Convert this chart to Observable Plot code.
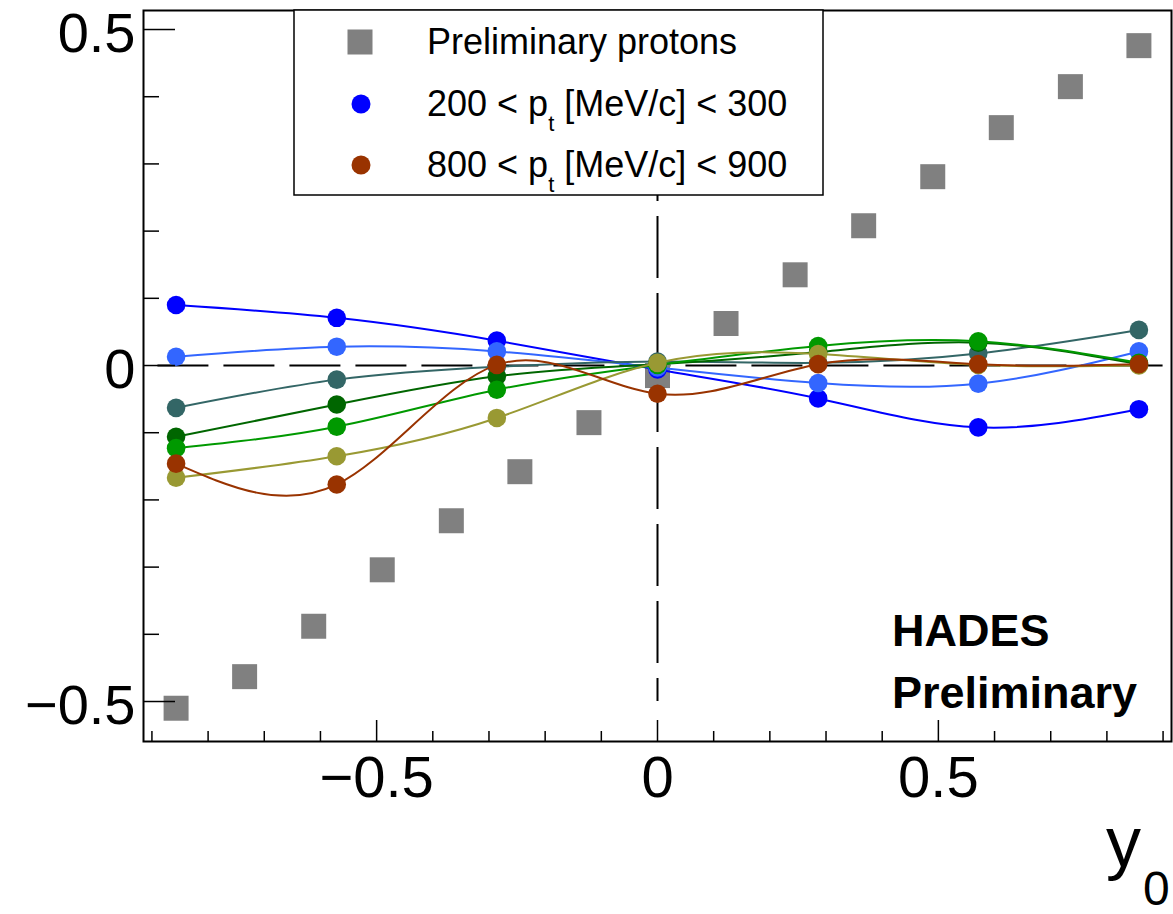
<!DOCTYPE html>
<html><head><meta charset="utf-8">
<script src="https://cdn.jsdelivr.net/npm/d3@7"></script>
<script src="https://cdn.jsdelivr.net/npm/@observablehq/plot@0.6"></script>
<style>
html,body{margin:0;padding:0;background:#fff;overflow:hidden}
#chart{position:relative;width:1173px;height:914px}
svg{display:block}
</style></head><body><div id="chart"></div>
<script>
// rapidity bins of the pt-differential series
const rapidity = [-0.857, -0.571, -0.286, 0, 0.286, 0.571, 0.857];
// proton reference points
const protonRapidity = [-0.857, -0.735, -0.612, -0.49, -0.367, -0.245, -0.122, 0, 0.122, 0.245, 0.367, 0.49, 0.612, 0.735, 0.857];
const protonV1 = [-0.510, -0.463, -0.388, -0.304, -0.231, -0.158, -0.085, -0.015, 0.0625, 0.135, 0.208, 0.281, 0.354, 0.415, 0.476];
// pt bins
const ptBins = ["200-300", "300-400", "400-500", "500-600", "600-700", "700-800", "800-900"];
const ptColors = ["#0000ff", "#3366ff", "#336666", "#006600", "#009900", "#999933", "#993300"];
const v1_200_300 = [0.090, 0.071, 0.037, -0.006, -0.049, -0.092, -0.065];
const v1_300_400 = [0.013, 0.028, 0.021, -0.003, -0.026, -0.027, 0.021];
const v1_400_500 = [-0.063, -0.021, -0.002, 0.006, 0.004, 0.018, 0.053];
const v1_500_600 = [-0.106, -0.058, -0.016, 0.002, 0.020, 0.034, 0.002];
const v1_600_700 = [-0.123, -0.091, -0.036, 0.001, 0.029, 0.036, 0.004];
const v1_700_800 = [-0.167, -0.135, -0.078, 0.004, 0.017, 0.001, 0.000];
const v1_800_900 = [-0.146, -0.177, 0.001, -0.042, 0.002, 0.002, 0.002];
const seriesValues = [v1_200_300, v1_300_400, v1_400_500, v1_500_600, v1_600_700, v1_700_800, v1_800_900];
// axis ticks
const xMajor = [-0.5, 0, 0.5];
const xMinor = [-0.9, -0.8, -0.7, -0.6, -0.4, -0.3, -0.2, -0.1, 0.1, 0.2, 0.3, 0.4, 0.6, 0.7, 0.8, 0.9];
const yMajor = [-0.5, 0, 0.5];
const yMinor = [-0.4, -0.3, -0.2, -0.1, 0.1, 0.2, 0.3, 0.4];

const W = 1173, H = 914, mL = 143, mR = 2, mT = 10, mB = 173;
const xDomain = [-0.915, 0.915];
const yDomain = [-0.5595, 0.5283];
const ux = (xDomain[1] - xDomain[0]) / (W - mL - mR);
const uy = (yDomain[1] - yDomain[0]) / (H - mT - mB);
const FONT = "'Liberation Sans', Arial, Helvetica, sans-serif";
const fmt = d => d < 0 ? "\u2212" + Math.abs(d) : String(d);

const protons = protonRapidity.map((x, i) => ({x, v: protonV1[i]}));
const seriesMarks = [];
ptBins.forEach((bin, k) => {
  const rows = rapidity.map((x, i) => ({x, v: seriesValues[k][i]}));
  seriesMarks.push(Plot.line(rows, {x: "x", y: "v", stroke: ptColors[k], strokeWidth: 2, curve: "natural"}));
  seriesMarks.push(Plot.dot(rows, {x: "x", y: "v", fill: ptColors[k], r: 9.3, stroke: "none"}));
});

const chart = Plot.plot({
  width: W, height: H,
  marginLeft: mL, marginRight: mR, marginTop: mT, marginBottom: mB,
  x: {domain: xDomain},
  y: {domain: yDomain},
  style: {fontFamily: FONT, background: "white", color: "black", overflow: "visible"},
  marks: [
    Plot.ruleY([0], {x1: -0.9, x2: 0.9, stroke: "black", strokeWidth: 2, strokeDasharray: "51,15", strokeDashoffset: 60}),
    Plot.ruleX([0], {y1: 0.5, y2: -0.5, stroke: "black", strokeWidth: 2, strokeDasharray: "62,15", strokeDashoffset: 44}),
    Plot.dot(protons, {x: "x", y: "v", symbol: "square", r: 14.1, fill: "#808080", stroke: "none"}),
    ...seriesMarks,
    Plot.ruleY(yMajor, {x1: xDomain[0], x2: xDomain[0] + 32 * ux, stroke: "black", strokeWidth: 1.5}),
    Plot.ruleY(yMinor, {x1: xDomain[0], x2: xDomain[0] + 16 * ux, stroke: "black", strokeWidth: 1.5}),
    Plot.ruleX(xMajor, {y1: yDomain[0], y2: yDomain[0] + 21 * uy, stroke: "black", strokeWidth: 1.5}),
    Plot.ruleX(xMinor, {y1: yDomain[0], y2: yDomain[0] + 10 * uy, stroke: "black", strokeWidth: 1.5}),
    Plot.frame({stroke: "black", strokeWidth: 2}),
    Plot.axisX({ticks: xMajor, tickSize: 0, tickPadding: 14, fontSize: 58, tickFormat: fmt, label: null}),
    Plot.axisY({ticks: yMajor, tickSize: 0, tickPadding: 8, fontSize: 56, tickFormat: fmt, label: null, dy: 5})
  ]
});
document.getElementById("chart").appendChild(chart);

// overlay: legend, annotation, axis title
const svg = d3.select(chart);
const g = svg.append("g").attr("font-family", FONT).attr("text-anchor", "start").attr("fill", "black");
g.append("rect").attr("x", 294).attr("y", 10).attr("width", 529).attr("height", 185)
  .attr("fill", "white").attr("stroke", "black").attr("stroke-width", 1.5);
g.append("rect").attr("x", 360 - 12.5).attr("y", 42 - 12.5).attr("width", 25).attr("height", 25).attr("fill", "#808080");
g.append("text").attr("x", 427).attr("y", 54).attr("font-size", 36).text("Preliminary protons");
const legendPt = [[0, "200", "300", 104], [6, "800", "900", 165]];
legendPt.forEach(([k, lo, hi, cy]) => {
  g.append("circle").attr("cx", 361).attr("cy", cy).attr("r", 9.5).attr("fill", ptColors[k]);
  const t = g.append("text").attr("x", 427).attr("y", cy + 12).attr("font-size", 36);
  t.append("tspan").text(lo + " < p");
  t.append("tspan").attr("font-size", 22).attr("dy", 15).text("t");
  t.append("tspan").attr("dy", -15).text(" [MeV/c] < " + hi);
});
g.append("text").attr("x", 892).attr("y", 646).attr("font-size", 45).attr("font-weight", "bold").text("HADES");
g.append("text").attr("x", 892).attr("y", 708).attr("font-size", 45).attr("font-weight", "bold").text("Preliminary");
g.append("text").attr("x", 1106).attr("y", 866).attr("font-size", 70).text("y");
g.append("text").attr("x", 1143).attr("y", 905).attr("font-size", 48).text("0");
</script></body></html>
